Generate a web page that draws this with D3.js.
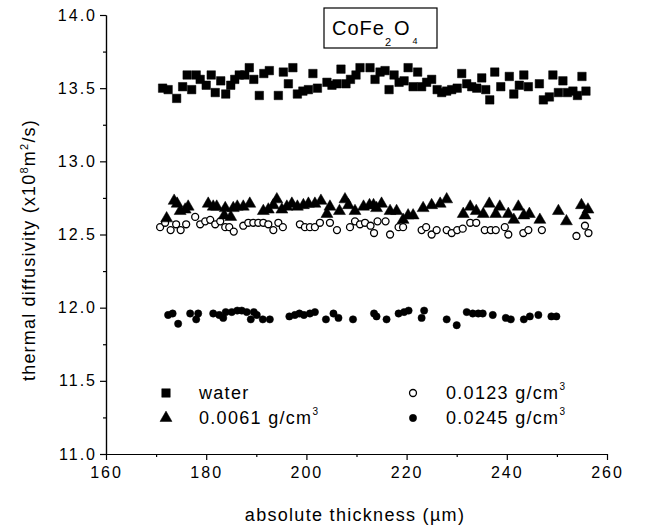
<!DOCTYPE html>
<html>
<head>
<meta charset="utf-8">
<script src="https://cdn.jsdelivr.net/npm/d3@7"></script>
<style>
  html, body { margin: 0; padding: 0; background: #fff; }
  svg { display: block; }
  text { font-family: "Liberation Sans", Arial, sans-serif; fill: #000; }
</style>
</head>
<body>
<div id="chart"></div>
<script>
// ---------------- data ----------------
const xDomain = [160, 260];
const yDomain = [11.0, 14.0];
const xMajorTicks = [160, 180, 200, 220, 240, 260];
const xMinorTicks = [170, 190, 210, 230, 250];
const yMajorTicks = [11.0, 11.5, 12.0, 12.5, 13.0, 13.5, 14.0];
const yMinorTicks = [11.25, 11.75, 12.25, 12.75, 13.25, 13.75];

const waterData = [
  [171.3,13.50],[172.4,13.49],[174.1,13.43],[175.3,13.51],[176.2,13.59],[177.1,13.49],[178.0,13.59],[178.8,13.56],
  [180.0,13.52],[181.0,13.59],[181.8,13.47],[182.9,13.55],[183.9,13.46],[184.9,13.52],[185.7,13.56],[186.6,13.59],
  [187.7,13.59],[188.6,13.64],[189.5,13.56],[190.6,13.45],[191.5,13.60],[192.6,13.62],[194.4,13.45],[195.4,13.61],
  [196.4,13.53],[197.3,13.64],[198.2,13.46],[199.3,13.48],[200.4,13.49],[201.3,13.60],[202.2,13.50],[204.1,13.54],
  [205.1,13.52],[206.1,13.53],[206.9,13.63],[207.9,13.53],[208.8,13.56],[209.9,13.59],[210.7,13.64],[212.7,13.64],
  [213.7,13.56],[214.7,13.61],[215.7,13.62],[216.5,13.49],[217.5,13.59],[218.5,13.54],[219.5,13.55],[220.3,13.64],
  [221.3,13.51],[222.2,13.61],[223.0,13.51],[224.0,13.54],[225.0,13.56],[226.1,13.49],[227.0,13.47],[228.0,13.48],
  [229.0,13.49],[230.1,13.50],[231.0,13.60],[232.0,13.53],[233.0,13.51],[234.0,13.50],[235.0,13.57],[235.8,13.49],
  [236.6,13.42],[237.6,13.61],[238.8,13.51],[240.5,13.58],[241.4,13.46],[242.5,13.52],[243.4,13.59],[244.3,13.51],
  [246.5,13.53],[247.3,13.42],[248.5,13.44],[249.2,13.59],[250.3,13.47],[251.2,13.55],[252.1,13.47],[253.2,13.48],
  [254.1,13.45],[255.0,13.58],[255.8,13.48]
];

const d0061Data = [
  [172.1,12.61],[173.6,12.73],[174.2,12.71],[174.8,12.66],[175.8,12.67],[176.4,12.69],[180.4,12.71],[181.4,12.69],
  [182.1,12.69],[183.6,12.63],[183.8,12.68],[184.9,12.62],[185.4,12.68],[186.2,12.69],[187.4,12.69],[188.7,12.71],
  [191.4,12.66],[192.4,12.67],[193.4,12.70],[194.1,12.74],[195.1,12.67],[196.1,12.69],[197.1,12.71],[198.2,12.69],
  [199.4,12.70],[200.4,12.71],[201.7,12.71],[202.9,12.73],[204.1,12.64],[204.7,12.69],[206.6,12.66],[207.7,12.74],
  [208.4,12.70],[209.7,12.66],[211.4,12.69],[212.6,12.70],[213.4,12.70],[214.0,12.68],[215.0,12.71],[216.7,12.66],
  [218.0,12.66],[219.3,12.60],[220.3,12.63],[221.3,12.63],[223.3,12.68],[225.0,12.70],[226.7,12.71],[228.0,12.74],
  [231.3,12.64],[232.7,12.69],[233.9,12.66],[235.3,12.64],[236.5,12.71],[237.8,12.64],[238.6,12.69],[240.3,12.64],
  [241.4,12.60],[242.3,12.69],[243.4,12.63],[244.5,12.64],[246.6,12.60],[250.3,12.66],[251.9,12.59],[254.9,12.70],
  [255.6,12.63],[256.2,12.67]
];

const d0123Data = [
  [170.8,12.55],[171.8,12.58],[172.9,12.53],[174.0,12.57],[174.9,12.53],[176.0,12.57],[177.8,12.62],[178.8,12.57],
  [179.8,12.59],[180.8,12.60],[181.8,12.57],[182.8,12.59],[183.8,12.55],[184.6,12.55],[185.5,12.52],[187.4,12.56],
  [188.4,12.58],[189.4,12.58],[190.4,12.58],[191.4,12.58],[192.4,12.57],[193.4,12.53],[194.4,12.58],[195.3,12.55],
  [198.7,12.57],[199.7,12.55],[200.7,12.55],[201.7,12.55],[202.7,12.58],[204.7,12.58],[206.1,12.53],[208.7,12.55],
  [209.7,12.59],[210.7,12.57],[211.7,12.58],[212.8,12.56],[213.5,12.51],[214.2,12.59],[215.8,12.59],[216.7,12.50],
  [218.4,12.55],[219.3,12.55],[223.0,12.53],[223.9,12.55],[225.0,12.50],[226.0,12.53],[228.0,12.53],[229.0,12.51],
  [230.1,12.53],[231.2,12.54],[232.7,12.58],[233.9,12.58],[235.6,12.53],[236.8,12.53],[237.8,12.53],[239.6,12.55],
  [240.3,12.50],[243.3,12.51],[244.3,12.53],[247.0,12.53],[253.9,12.49],[255.6,12.56],[256.3,12.51]
];

const d0245Data = [
  [172.4,11.95],[173.3,11.96],[174.4,11.89],[176.8,11.96],[178.0,11.92],[178.4,11.96],[181.4,11.96],[182.6,11.95],
  [183.4,11.93],[183.9,11.97],[185.1,11.97],[186.2,11.98],[187.1,11.98],[188.1,11.97],[188.9,11.92],[189.5,11.97],
  [190.1,11.95],[191.3,11.92],[192.7,11.92],[196.6,11.94],[197.7,11.95],[198.6,11.96],[199.5,11.95],[200.7,11.96],
  [201.7,11.97],[203.9,11.92],[205.4,11.96],[206.4,11.93],[209.3,11.92],[213.5,11.96],[214.0,11.94],[216.0,11.92],
  [218.4,11.96],[219.5,11.97],[220.4,11.98],[223.0,11.93],[223.5,11.98],[228.0,11.92],[230.0,11.88],[232.0,11.97],
  [233.2,11.96],[234.3,11.96],[235.2,11.96],[237.2,11.95],[239.8,11.93],[240.8,11.92],[243.4,11.92],[244.6,11.94],
  [246.3,11.95],[248.9,11.94],[249.9,11.94]
];

const legendLabels = ["water", "0.0061 g/cm", "0.0123 g/cm", "0.0245 g/cm"];
const titleParts = ["CoFe", "2", "O", "4"];
const xTitle = "absolute thickness (\u00b5m)";

// ---------------- drawing ----------------
const W = 659, H = 526;
const svg = d3.select("#chart").append("svg").attr("width", W).attr("height", H);

const x = d3.scaleLinear().domain(xDomain).range([106, 607]);
const y = d3.scaleLinear().domain(yDomain).range([454, 15]);

// axes
svg.append("g").attr("transform", "translate(106,0)")
  .call(d3.axisLeft(y).tickValues(yMajorTicks).tickSize(6).tickSizeOuter(0).tickPadding(3).tickFormat(d3.format(".1f")));
svg.append("g").attr("transform", "translate(106,0)")
  .call(d3.axisLeft(y).tickValues(yMinorTicks).tickSize(3).tickSizeOuter(0).tickFormat(""));
svg.append("g").attr("transform", "translate(0,454)")
  .call(d3.axisBottom(x).tickValues(xMajorTicks).tickSize(6).tickSizeOuter(0).tickPadding(7).tickFormat(d3.format("d")));
svg.append("g").attr("transform", "translate(0,454)")
  .call(d3.axisBottom(x).tickValues(xMinorTicks).tickSize(3).tickSizeOuter(0).tickFormat(""));

svg.selectAll(".domain").attr("stroke", "#000").attr("stroke-width", 1.2);
svg.selectAll(".tick line").attr("stroke", "#000").attr("stroke-width", 1.2);
svg.selectAll(".tick text")
  .attr("font-family", "Liberation Sans, Arial, sans-serif")
  .attr("font-size", 16).attr("letter-spacing", "2px").attr("fill", "#222");

// axis titles
const yTitle = svg.append("text")
  .attr("transform", "translate(35,250) rotate(-90)")
  .attr("text-anchor", "middle")
  .attr("font-size", 18).attr("letter-spacing", "1.2px").attr("fill", "#222");
yTitle.append("tspan").text("thermal diffusivity (x10");
yTitle.append("tspan").attr("font-size", 11).attr("dy", -7).text("8");
yTitle.append("tspan").attr("dy", 7).text("m");
yTitle.append("tspan").attr("font-size", 11).attr("dy", -7).text("2");
yTitle.append("tspan").attr("dy", 7).text("/s)");

svg.append("text")
  .attr("x", 355).attr("y", 521)
  .attr("text-anchor", "middle")
  .attr("font-size", 18).attr("letter-spacing", "1.3px").attr("fill", "#222")
  .text(xTitle);

// title box
svg.append("rect").attr("x", 324).attr("y", 8).attr("width", 113).attr("height", 40)
  .attr("fill", "#fff").attr("stroke", "#000").attr("stroke-width", 1.2);
const t = svg.append("text").attr("x", 332).attr("y", 35).attr("font-size", 20).attr("letter-spacing", "1px").attr("fill", "#222");
t.append("tspan").text(titleParts[0]);
t.append("tspan").attr("font-size", 11).attr("dy", 11).text(titleParts[1]);
t.append("tspan").attr("dy", -11).attr("dx", 2).text(titleParts[2]);
t.append("tspan").attr("font-size", 9).attr("dy", 9).attr("dx", 2).text(titleParts[3]);

// series
const sq = d3.symbol().type(d3.symbolSquare).size(72);
const tri = d3.symbol().type(d3.symbolTriangle).size(62);
const circO = d3.symbol().type(d3.symbolCircle).size(38);
const circF = d3.symbol().type(d3.symbolCircle).size(42);

function drawSeries(data, sym, filled) {
  svg.append("g").selectAll("path").data(data).join("path")
    .attr("transform", d => `translate(${x(d[0])},${y(d[1])})`)
    .attr("d", sym)
    .attr("fill", filled ? "#000" : "#fff")
    .attr("stroke", "#000")
    .attr("stroke-width", filled ? 0.5 : 1.3);
}
drawSeries(d0123Data, circO, false);
drawSeries(d0061Data, tri, true);
drawSeries(waterData, sq, true);
drawSeries(d0245Data, circF, true);

// legend
const legendItems = [
  {sym: sq, filled: true, mx: 166, my: 393, label: legendLabels[0], sup: false},
  {sym: tri, filled: true, mx: 166, my: 418, label: legendLabels[1], sup: true},
  {sym: circO, filled: false, mx: 413, my: 393, label: legendLabels[2], sup: true},
  {sym: circF, filled: true, mx: 413, my: 418, label: legendLabels[3], sup: true}
];
legendItems.forEach(it => {
  svg.append("path")
    .attr("transform", `translate(${it.mx},${it.my})`)
    .attr("d", it.sym)
    .attr("fill", it.filled ? "#000" : "#fff")
    .attr("stroke", "#000").attr("stroke-width", it.filled ? 0.5 : 1.3);
  const tx = svg.append("text").attr("x", it.mx + 33).attr("y", it.my + 6)
    .attr("font-size", 18).attr("letter-spacing", "1.3px").attr("fill", "#222");
  tx.append("tspan").text(it.label);
  if (it.sup) tx.append("tspan").attr("font-size", 10).attr("dy", -9).text("3");
});
</script>
</body>
</html>
